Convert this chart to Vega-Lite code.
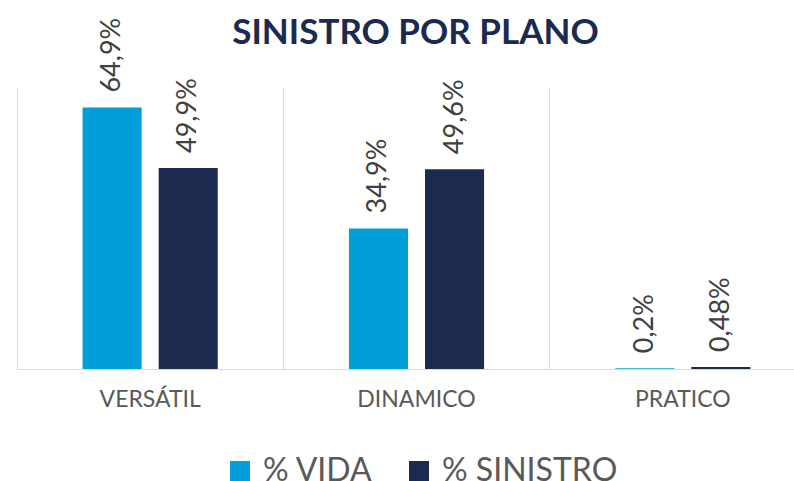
{
  "$schema": "https://vega.github.io/schema/vega-lite/v6.json",
  "autosize": {"type": "none"},
  "padding": {"left": 17, "top": 87, "right": 0, "bottom": 112},
  "width": 777,
  "height": 282,
  "background": "white",
  "title": {
    "text": "SINISTRO POR PLANO",
    "font": "Lato",
    "fontSize": 35,
    "fontWeight": "bold",
    "color": "#1B2A4E",
    "anchor": "middle",
    "frame": "group",
    "baseline": "alphabetic",
    "offset": -61,
    "dx": 10
  },
  "data": {
    "values": [
      {"plano": "VERSÁTIL", "serie": "% VIDA", "valor": 64.9, "rotulo": "64,9%"},
      {"plano": "VERSÁTIL", "serie": "% SINISTRO", "valor": 49.9, "rotulo": "49,9%"},
      {"plano": "DINAMICO", "serie": "% VIDA", "valor": 34.9, "rotulo": "34,9%"},
      {"plano": "DINAMICO", "serie": "% SINISTRO", "valor": 49.6, "rotulo": "49,6%"},
      {"plano": "PRATICO", "serie": "% VIDA", "valor": 0.2, "rotulo": "0,2%"},
      {"plano": "PRATICO", "serie": "% SINISTRO", "valor": 0.48, "rotulo": "0,48%"}
    ]
  },
  "encoding": {
    "x": {
      "field": "plano",
      "type": "nominal",
      "sort": ["VERSÁTIL", "DINAMICO", "PRATICO"],
      "scale": {"range": [0, 799], "paddingInner": 0, "paddingOuter": 0},
      "axis": {
        "title": null,
        "labelAngle": 0,
        "labelFont": "Lato",
        "labelFontSize": 23,
        "labelColor": "#595959",
        "labelPadding": 19,
        "ticks": false,
        "domainColor": "#D9D9D9",
        "domainWidth": 1,
        "grid": true,
        "gridColor": "#D9D9D9",
        "gridWidth": 1,
        "bandPosition": 0
      }
    },
    "xOffset": {
      "field": "serie",
      "type": "nominal",
      "sort": ["% VIDA", "% SINISTRO"],
      "scale": {"paddingInner": 0.2237, "paddingOuter": 0.862}
    },
    "y": {
      "field": "valor",
      "type": "quantitative",
      "scale": {"domain": [0, 70], "nice": false},
      "axis": null
    }
  },
  "layer": [
    {
      "mark": {"type": "bar"},
      "encoding": {
        "color": {
          "field": "serie",
          "type": "nominal",
          "sort": ["% VIDA", "% SINISTRO"],
          "scale": {"domain": ["% VIDA", "% SINISTRO"], "range": ["#009FDA", "#1B2A4E"]},
          "legend": {
            "title": null,
            "orient": "none",
            "direction": "horizontal",
            "legendX": 207,
            "legendY": 368,
            "symbolType": "square",
            "symbolSize": 400,
            "symbolStrokeWidth": 0,
            "labelFont": "Lato",
            "labelFontSize": 32,
            "labelColor": "#595959",
            "labelOffset": 7,
            "labelLimit": 400,
            "columnPadding": 30,
            "padding": 0
          }
        }
      }
    },
    {
      "mark": {"type": "text", "angle": -90, "align": "left", "baseline": "middle", "dx": 15, "font": "Lato", "fontSize": 27, "color": "#404040"},
      "encoding": {
        "text": {"field": "rotulo"}
      }
    }
  ],
  "config": {"view": {"stroke": null}}
}
